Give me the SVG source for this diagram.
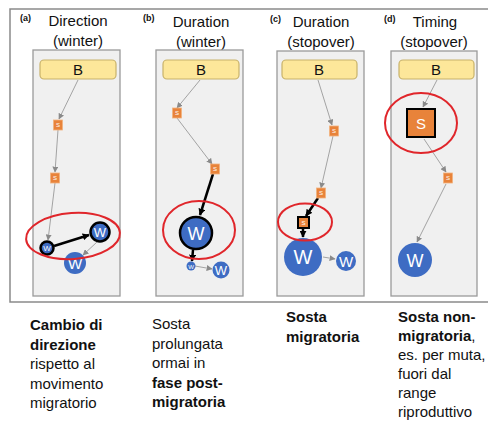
<svg xmlns="http://www.w3.org/2000/svg" width="488" height="423" viewBox="0 0 488 423">
<style>
text{font-family:"Liberation Sans",Arial,sans-serif;}
.ttl{font-size:15px;fill:#111;text-anchor:middle;}
.lab{font-size:9px;font-weight:bold;fill:#111;}
.panel{fill:#f0f0f0;stroke:#9a9a9a;stroke-width:1.3;}
.b{fill:#fde79a;stroke:#c8b26a;stroke-width:1.2;}
.bt{font-size:15px;fill:#111;text-anchor:middle;}
.s{fill:#e8833a;stroke:#f2b27e;stroke-width:0.8;}
.sk{fill:#e8833a;stroke:#000;stroke-width:2;}
.st{fill:#fff;text-anchor:middle;font-size:6px;}
.w{fill:#3e6cc3;}
.wk{fill:#3e6cc3;stroke:#000;stroke-width:2.5;}
.wt{fill:#fff;text-anchor:middle;}
.ring{fill:none;stroke:#e0262b;stroke-width:2;}
.thin{stroke:#9a9a9a;stroke-width:0.9;fill:none;marker-end:url(#ga);}
.thick{stroke:#000;stroke-width:2.5;fill:none;marker-end:url(#ka);}
.cap{font-size:15px;fill:#111;}
.bold{font-weight:bold;}
</style>
<defs>
<marker id="ga" viewBox="0 0 10 10" refX="9" refY="5" markerWidth="6" markerHeight="6" orient="auto" markerUnits="userSpaceOnUse"><path d="M0,0 L10,5 L0,10 z" fill="#8a8a8a"/></marker>
<marker id="ka" viewBox="0 0 10 10" refX="9" refY="5" markerWidth="7" markerHeight="7" orient="auto" markerUnits="userSpaceOnUse"><path d="M0,0 L10,5 L0,10 z" fill="#000"/></marker>
</defs>
<rect width="488" height="423" fill="#fff"/>
<path d="M490,9 H10 V302 H490" fill="none" stroke="#8a8a8a" stroke-width="1.5"/>

<!-- titles -->
<g id="titles">
<text class="lab" x="20" y="21">(a)</text>
<text class="ttl" x="78" y="26">Direction</text>
<text class="ttl" x="78" y="46">(winter)</text>
<text class="lab" x="143" y="21">(b)</text>
<text class="ttl" x="201" y="27">Duration</text>
<text class="ttl" x="201" y="47">(winter)</text>
<text class="lab" x="270" y="22">(c)</text>
<text class="ttl" x="321" y="27">Duration</text>
<text class="ttl" x="321" y="47">(stopover)</text>
<text class="lab" x="384" y="22">(d)</text>
<text class="ttl" x="435" y="27">Timing</text>
<text class="ttl" x="434" y="47">(stopover)</text>
</g>

<!-- panels -->
<g id="panel-a"><rect class="panel" x="33" y="50" width="87" height="246"/></g>
<g id="panel-b"><rect class="panel" x="156" y="50" width="87" height="246"/></g>
<g id="panel-c"><rect class="panel" x="277" y="51" width="87" height="245"/></g>
<g id="panel-d"><rect class="panel" x="391" y="51" width="86" height="245"/></g>

<!-- connectors -->
<g id="connectors">
<!-- a -->
<line class="thin" x1="78" y1="80" x2="59" y2="119"/>
<line class="thin" x1="58" y1="130" x2="55" y2="172"/>
<line class="thin" x1="55" y1="183" x2="48" y2="240"/>
<line class="thick" x1="54" y1="246" x2="89" y2="235"/>
<line class="thin" x1="97" y1="242" x2="83" y2="255"/>
<!-- b -->
<line class="thin" x1="200" y1="80" x2="177" y2="108"/>
<line class="thin" x1="177" y1="118" x2="212" y2="164"/>
<line class="thick" x1="213" y1="174" x2="200" y2="215"/>
<line class="thick" x1="193" y1="250" x2="192" y2="261"/>
<line class="thin" x1="195" y1="266" x2="212" y2="269"/>
<!-- c -->
<line class="thin" x1="318" y1="80" x2="332" y2="125"/>
<line class="thin" x1="333" y1="136" x2="321" y2="188"/>
<line class="thick" x1="318" y1="198" x2="306" y2="216"/>
<line class="thick" x1="303" y1="229" x2="303" y2="237"/>
<line class="thin" x1="323" y1="257" x2="335" y2="259"/>
<!-- d -->
<line class="thin" x1="437" y1="80" x2="423" y2="107"/>
<line class="thin" x1="424" y1="139" x2="446" y2="172"/>
<line class="thin" x1="446" y1="184" x2="417" y2="242"/>
</g>

<!-- panel a nodes -->
<g id="a-B"><rect class="b" x="40" y="60" width="76" height="19" rx="4"/><text class="bt" x="78" y="75">B</text></g>
<g id="a-S1"><rect class="s" x="53.5" y="120" width="9" height="10"/><text class="st" x="58" y="127">S</text></g>
<g id="a-S2"><rect class="s" x="50.5" y="173" width="9" height="10"/><text class="st" x="55" y="180">S</text></g>
<g id="a-W1"><circle class="wk" cx="47" cy="248" r="6.5"/><text class="wt" x="47" y="251" font-size="8">W</text></g>
<g id="a-W2"><circle class="wk" cx="100" cy="232" r="9.5"/><text class="wt" x="100" y="237" font-size="13">W</text></g>
<g id="a-W3"><circle class="w" cx="75" cy="263" r="11"/><text class="wt" x="75" y="268.5" font-size="15">W</text></g>
<g id="a-ring"><ellipse class="ring" cx="73" cy="236" rx="47" ry="23" transform="rotate(-4 73 236)"/></g>

<!-- panel b nodes -->
<g id="b-B"><rect class="b" x="163" y="60" width="76" height="19" rx="4"/><text class="bt" x="201" y="75">B</text></g>
<g id="b-S1"><rect class="s" x="172.5" y="108" width="9" height="10"/><text class="st" x="177" y="115">S</text></g>
<g id="b-S2"><rect class="s" x="210.5" y="164" width="9" height="10"/><text class="st" x="215" y="171">S</text></g>
<g id="b-W1"><circle class="wk" cx="196" cy="233" r="16"/><text class="wt" x="196" y="240" font-size="18">W</text></g>
<g id="b-W2"><circle class="w" cx="191" cy="266" r="4.5"/><text class="wt" x="191" y="268.5" font-size="6">W</text></g>
<g id="b-W3"><circle class="w" cx="221" cy="270" r="8.5"/><text class="wt" x="221" y="275" font-size="13">W</text></g>
<g id="b-ring"><ellipse class="ring" cx="199" cy="230" rx="36" ry="29"/></g>

<!-- panel c nodes -->
<g id="c-B"><rect class="b" x="282" y="60" width="75" height="19" rx="4"/><text class="bt" x="319" y="75">B</text></g>
<g id="c-S1"><rect class="s" x="329.5" y="126" width="9" height="10"/><text class="st" x="334" y="133">S</text></g>
<g id="c-S2"><rect class="s" x="316.5" y="188" width="9" height="10"/><text class="st" x="321" y="195">S</text></g>
<g id="c-S3"><rect class="sk" x="298" y="217" width="11" height="11"/><text class="st" x="303.5" y="225">S</text></g>
<g id="c-W1"><circle class="w" cx="303" cy="257" r="19"/><text class="wt" x="303" y="264" font-size="20">W</text></g>
<g id="c-W2"><circle class="w" cx="346" cy="261" r="10"/><text class="wt" x="346" y="267" font-size="15">W</text></g>
<g id="c-ring"><ellipse class="ring" cx="305" cy="222" rx="27" ry="18.5"/></g>

<!-- panel d nodes -->
<g id="d-B"><rect class="b" x="399" y="60" width="75" height="19" rx="4"/><text class="bt" x="436" y="75">B</text></g>
<g id="d-S1"><rect class="sk" x="407" y="109" width="28" height="28" stroke-width="3"/><text class="wt" x="421" y="129" font-size="15">S</text></g>
<g id="d-S2"><rect class="s" x="443.5" y="173" width="9" height="10"/><text class="st" x="448" y="180">S</text></g>
<g id="d-W1"><circle class="w" cx="415" cy="260" r="17"/><text class="wt" x="415" y="266.5" font-size="18">W</text></g>
<g id="d-ring"><ellipse class="ring" cx="421" cy="123" rx="36" ry="30"/></g>

<!-- captions -->
<g id="captions">
<text class="cap" x="30" y="330"><tspan class="bold">Cambio di</tspan><tspan class="bold" x="30" dy="19.5">direzione</tspan><tspan x="30" dy="19.5">rispetto al</tspan><tspan x="30" dy="19.5">movimento</tspan><tspan x="30" dy="19.5">migratorio</tspan></text>
<text class="cap" x="152" y="329">Sosta<tspan x="152" dy="19.5">prolungata</tspan><tspan x="152" dy="19.5">ormai in</tspan><tspan class="bold" x="152" dy="19.5">fase post-</tspan><tspan class="bold" x="152" dy="19.5">migratoria</tspan></text>
<text class="cap bold" x="286" y="322">Sosta<tspan x="286" dy="19.5">migratoria</tspan></text>
<text class="cap" x="398" y="322"><tspan class="bold">Sosta non-</tspan><tspan class="bold" x="398" dy="19">migratoria</tspan>,<tspan x="398" dy="19">es. per muta,</tspan><tspan x="398" dy="19">fuori dal</tspan><tspan x="398" dy="19">range</tspan><tspan x="398" dy="18.5">riproduttivo</tspan></text>
</g>
</svg>
